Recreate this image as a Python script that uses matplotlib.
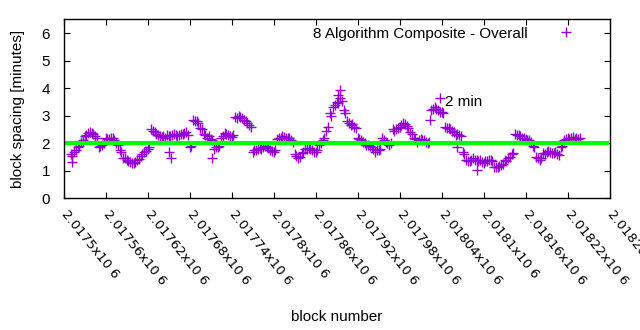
import numpy as np
import matplotlib
matplotlib.use("Agg")
import matplotlib.pyplot as plt

# block-spacing moving average, one value every 5 blocks
first_block = 2017510
block_step = 5
spacing = [1.6, 1.7, 1.85, 2.05, 2.25, 2.38, 2.38, 2.25, 1.85, 1.95,
           2.2, 2.15, 2.18, 2.0, 1.75, 1.48, 1.39, 1.33, 1.29, 1.38,
           1.55, 1.68, 1.8, 2.5, 2.4, 2.3, 2.22, 2.2, 2.25, 2.29,
           2.3, 2.3, 2.35, 2.4, 1.85, 2.85, 2.8, 2.55, 2.35, 2.2,
           2.15, 1.8, 1.85, 2.2, 2.37, 2.3, 2.22, 2.95, 3.0, 2.9,
           2.8, 2.65, 1.7, 1.75, 1.82, 1.85, 1.86, 1.75, 1.7, 2.15,
           2.2, 2.22, 2.18, 2.1, 1.6, 1.45, 1.65, 1.78, 1.82, 1.75,
           1.7, 1.95, 2.1, 2.45, 3.1, 3.3, 3.5, 3.65, 3.2, 2.8,
           2.66, 2.6, 2.2, 2.1, 2.0, 1.93, 1.85, 1.7, 1.75, 2.2,
           2.05, 1.95, 2.5, 2.5, 2.6, 2.75, 2.62, 2.4, 2.2, 2.05,
           2.15, 2.1, 2.0, 3.2, 3.3, 3.2, 3.15, 2.6, 2.55, 2.45,
           2.3, 2.3, 1.7, 1.4, 1.35, 1.45, 1.4, 1.38, 1.3, 1.35,
           1.4, 1.12, 1.12, 1.2, 1.39, 1.45, 1.6, 2.35, 2.3, 2.18,
           2.15, 2.1, 1.9, 1.5, 1.4, 1.65, 1.68, 1.7, 1.65, 1.6,
           1.85, 2.1, 2.18, 2.18, 2.17, 2.15]

# same window, sampled 2 blocks later
spacing_b = [1.55, 1.75, 1.9, 2.1, 2.3, 2.4, 2.33, 2.2, 1.9, 2.0,
             2.15, 2.2, 2.12, 1.95, 1.7, 1.45, 1.35, 1.3, 1.33, 1.42,
             1.6, 1.72, 1.85, 2.45, 2.35, 2.28, 2.25, 2.3, 2.28, 2.33,
             2.27, 2.35, 2.38, 2.3, 1.9, 2.8, 2.75, 2.5, 2.3, 2.25,
             2.1, 1.85, 1.9, 2.25, 2.33, 2.27, 2.3, 2.9, 2.95, 2.85,
             2.75, 2.6, 1.75, 1.8, 1.78, 1.9, 1.82, 1.72, 1.75, 2.2,
             2.25, 2.18, 2.2, 2.05, 1.55, 1.5, 1.7, 1.8, 1.78, 1.7,
             1.75, 2.0, 2.2, 2.6, 3.0, 3.4, 3.45, 3.55, 3.1, 2.75,
             2.7, 2.55, 2.15, 2.05, 1.95, 1.9, 1.8, 1.75, 1.8, 2.1,
             2.0, 2.0, 2.45, 2.55, 2.65, 2.7, 2.55, 2.35, 2.15, 2.1,
             2.1, 2.05, 2.05, 3.25, 3.25, 3.15, 3.1, 2.55, 2.5, 2.4,
             2.35, 2.25, 1.6, 1.35, 1.4, 1.4, 1.35, 1.33, 1.35, 1.4,
             1.35, 1.15, 1.18, 1.25, 1.35, 1.5, 1.65, 2.3, 2.25, 2.2,
             2.1, 2.05, 1.85, 1.45, 1.45, 1.6, 1.72, 1.65, 1.7, 1.58,
             1.9, 2.15, 2.15, 2.22, 2.2, 2.18]

# scattered single blocks away from the running curve
extra_blocks = [2017511, 2017650, 2017653, 2017711, 2017891, 2017894,
                2018023, 2018037, 2018061, 2018090]
extra_spacing = [1.33, 1.7, 1.45, 1.45, 3.74, 3.92, 2.84, 3.63, 1.88, 1.03]

# 2 minute target line
target_x = [2017504, 2018276]
target_y = [2, 2]

xtick_vals = [2017500, 2017560, 2017620, 2017680, 2017740, 2017800, 2017860,
              2017920, 2017980, 2018040, 2018100, 2018160, 2018220, 2018280]
xtick_text = ["2.0175", "2.01756", "2.01762", "2.01768", "2.01774", "2.0178",
              "2.01786", "2.01792", "2.01798", "2.01804", "2.0181", "2.01816",
              "2.01822", "2.01828"]

blocks = first_block + block_step * np.arange(len(spacing))
all_blocks = np.concatenate([blocks, blocks + 2, extra_blocks])
all_spacing = np.concatenate([spacing, spacing_b, extra_spacing])

plt.rcParams['font.family'] = ['Liberation Sans', 'DejaVu Sans']

fig = plt.figure(figsize=(6.4, 3.3), dpi=100)
ax = fig.add_axes([0.1, 0.399, 0.853, 0.5425])

ax.plot(all_blocks, all_spacing, linestyle='none', marker='+', markersize=7.5,
        markeredgewidth=1.0, color='#9400d3',
        label='8 Algorithm Composite - Overall')
ax.plot(target_x, target_y, color='#00ff00', linewidth=3.0)

ax.text(2018045, 3.5, '2 min', fontsize=11, va='center', ha='left')

ax.set_xlim(2017500, 2018280)
ax.set_ylim(0, 6.5)
ax.set_yticks(range(0, 7))
ax.set_xticks(xtick_vals)
ax.tick_params(direction='in', length=4, width=0.8, top=True, right=True)
ax.tick_params(axis='y', pad=10, labelsize=11)
ax.tick_params(axis='x', pad=10)
ax.set_xticklabels([t + "x10 6" for t in xtick_text], rotation=-51,
                   ha='left', va='center', rotation_mode='anchor',
                   family='DejaVu Sans', fontsize=9.5)
for sp in ax.spines.values():
    sp.set_linewidth(1.0)

ax.set_xlabel('block number', fontsize=11, labelpad=16)
ax.set_ylabel('block spacing [minutes]', fontsize=11, labelpad=12)

leg = ax.legend(loc='upper right', frameon=False, markerfirst=False,
                fontsize=11, handlelength=1.0, handletextpad=2.0,
                bbox_to_anchor=(0.958, 1.035), numpoints=1)

fig.savefig('out.png', dpi=100)
